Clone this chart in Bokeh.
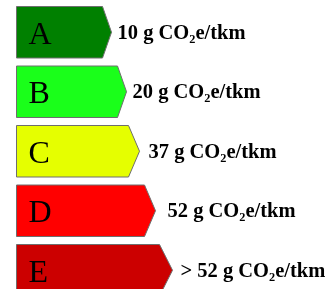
from bokeh.plotting import figure
from bokeh.embed import file_html
from bokeh.resources import INLINE
from bokeh.models import ColumnDataSource
from bokeh.core.properties import value

# ---- data ----
classes = ["A", "B", "C", "D", "E"]
emissions = [10, 20, 37, 52, 52]
labels = ["10 g CO\u2082e/tkm", "20 g CO\u2082e/tkm", "37 g CO\u2082e/tkm",
          "52 g CO\u2082e/tkm", "> 52 g CO\u2082e/tkm"]
colors = ["#008000", "#1aff1a", "#e5ff00", "#ff0000", "#cc0000"]

# ---- layout (pixel-like coordinate space) ----
left = 16
row_top0 = 6
row_pitch = 59.5
row_h = 51.5
rect_right = [102, 117, 128, 144, 159]
tip_depth = [9, 9, 11, 11, 13]
label_gap = [6, 6, 9, 12, 8]

xs, ys, lx, ly, tx, ty = [], [], [], [], [], []
for i, c in enumerate(classes):
    top = row_top0 + row_pitch * i
    bot = top + row_h
    mid = (top + bot) / 2
    r = rect_right[i]
    t = r + tip_depth[i]
    xs.append([left, r, t, r, left])
    ys.append([top, top, mid, bot, bot])
    lx.append(28)
    ly.append(mid + 0.5)
    tx.append(t + label_gap[i])
    ty.append(mid - 0.3)

src = ColumnDataSource(dict(xs=xs, ys=ys, color=colors, cls=classes, lx=lx, ly=ly,
                            lab=labels, tx=tx, ty=ty, val=emissions))

p = figure(width=331, height=289, x_range=(0, 331), y_range=(289, 0),
           output_backend="svg", toolbar_location=None, min_border=0,
           styles={"position": "fixed", "left": "0px", "top": "0px"})
p.axis.visible = False
p.grid.visible = False
p.outline_line_color = None
p.background_fill_color = "white"
p.border_fill_color = "white"

p.patches("xs", "ys", source=src, fill_color="color", line_color="#6e6e6e", line_width=1)
p.text("lx", "ly", text="cls", source=src, text_font=value("Liberation Serif"),
       text_font_size="32px", text_color="black", text_baseline="alphabetic", text_align="left")
p.text("tx", "ty", text="lab", source=src, text_font=value("Liberation Serif"),
       text_font_size="20.5px", text_font_style="bold", text_color="black",
       text_baseline="alphabetic", text_align="left")

open("out.html", "w").write(file_html(p, INLINE))
